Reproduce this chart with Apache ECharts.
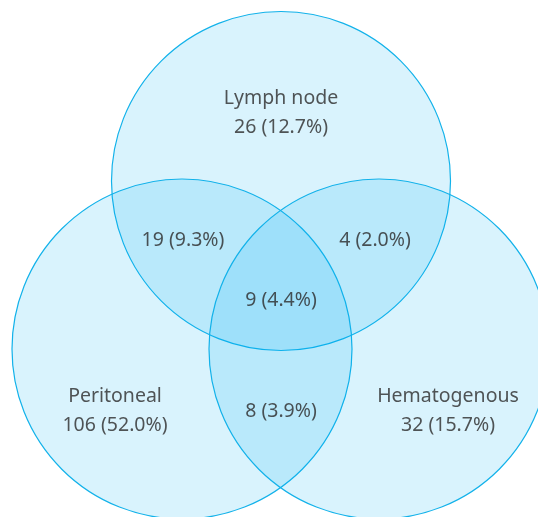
<!DOCTYPE html>
<html>
<head>
<meta charset="utf-8">
<script src="https://cdn.jsdelivr.net/npm/echarts@6/dist/echarts.min.js"></script>
<style>html,body{margin:0;padding:0;background:#fff}#c{width:538px;height:517px}</style>
</head>
<body>
<div id="c"></div>
<script>
// Sets (circles): name, center x, center y, radius (in diagram units)
var setNames = ['Lymph node', 'Peritoneal', 'Hematogenous'];
var setCx = [281, 182, 379];
var setCy = [181, 349, 349];
var setR = [169.5, 170, 170];

// Region labels
var regionNames = ['Lymph node', '', '', '', 'Peritoneal', '', 'Hematogenous'];
var regionCounts = [26, 19, 4, 9, 106, 8, 32];
var regionPcts = ['12.7', '9.3', '2.0', '4.4', '52.0', '3.9', '15.7'];
var regionX = [281, 183, 375, 281, 115, 281, 448];
var regionY = [113, 240, 240, 300, 411, 411, 411];

var circleData = setNames.map(function (n, i) { return [setCx[i], setCy[i], setR[i], n]; });
var labelData = regionCounts.map(function (c, i) {
  return { value: [regionX[i], regionY[i]],
           text: (regionNames[i] ? regionNames[i] + '\n' : '') + c + ' (' + regionPcts[i] + '%)' };
});

var chart = echarts.init(document.getElementById('c'), null, { renderer: 'canvas' });
chart.setOption({
  animation: false,
  grid: { left: 0, right: 0, top: 0, bottom: 0 },
  xAxis: { type: 'value', min: 0, max: 538, show: false },
  yAxis: { type: 'value', min: 0, max: 517, inverse: true, show: false },
  series: [
    {
      type: 'custom',
      data: circleData,
      renderItem: function (params, api) {
        var c = api.coord([api.value(0), api.value(1)]);
        var r = api.size([api.value(2), 0])[0];
        return {
          type: 'circle',
          shape: { cx: c[0], cy: c[1], r: r },
          style: { fill: 'rgba(0,174,239,0.15)', stroke: '#12b2ea', lineWidth: 1.2 }
        };
      },
      z: 1
    },
    {
      type: 'scatter',
      symbolSize: 0,
      data: labelData,
      label: {
        show: true,
        position: 'inside',
        formatter: function (p) { return p.data.text; },
        fontFamily: 'Noto Sans',
        fontSize: 19.5,
        lineHeight: 29,
        color: '#2b2b2b',
        align: 'center',
        verticalAlign: 'middle'
      },
      z: 2
    }
  ]
});
</script>
</body>
</html>
